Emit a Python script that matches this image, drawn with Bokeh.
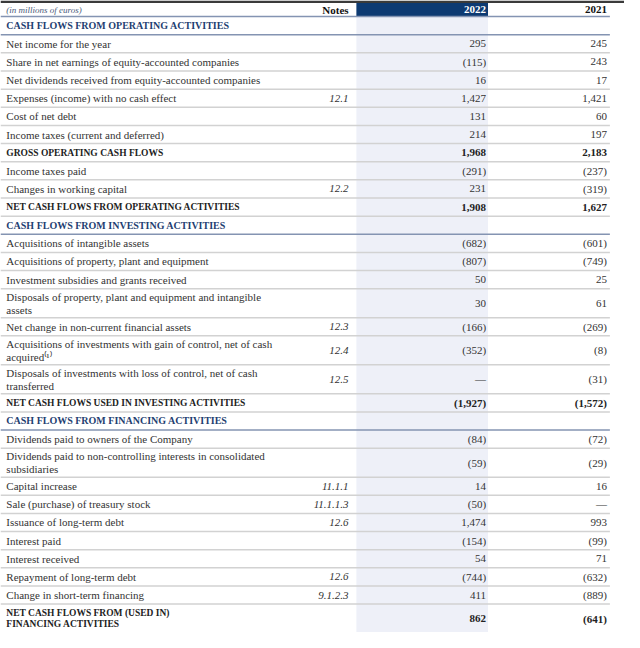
from bokeh.plotting import figure
from bokeh.models import Range1d
from bokeh.embed import file_html
from bokeh.resources import INLINE
from bokeh.core.properties import value

# ---------------- data ----------------
labels = [
    "CASH FLOWS FROM OPERATING ACTIVITIES",
    "Net income for the year",
    "Share in net earnings of equity-accounted companies",
    "Net dividends received from equity-accounted companies",
    "Expenses (income) with no cash effect",
    "Cost of net debt",
    "Income taxes (current and deferred)",
    "GROSS OPERATING CASH FLOWS",
    "Income taxes paid",
    "Changes in working capital",
    "NET CASH FLOWS FROM OPERATING ACTIVITIES",
    "CASH FLOWS FROM INVESTING ACTIVITIES",
    "Acquisitions of intangible assets",
    "Acquisitions of property, plant and equipment",
    "Investment subsidies and grants received",
    "Disposals of property, plant and equipment and intangible\nassets",
    "Net change in non-current financial assets",
    "Acquisitions of investments with gain of control, net of cash\nacquired\u207d\u00b9\u207e",
    "Disposals of investments with loss of control, net of cash\ntransferred",
    "NET CASH FLOWS USED IN INVESTING ACTIVITIES",
    "CASH FLOWS FROM FINANCING ACTIVITIES",
    "Dividends paid to owners of the Company",
    "Dividends paid to non-controlling interests in consolidated\nsubsidiaries",
    "Capital increase",
    "Sale (purchase) of treasury stock",
    "Issuance of long-term debt",
    "Interest paid",
    "Interest received",
    "Repayment of long-term debt",
    "Change in short-term financing",
    "NET CASH FLOWS FROM (USED IN)\nFINANCING ACTIVITIES",
]
notes = ["", "", "", "", "12.1", "", "", "", "", "12.2", "",
         "", "", "", "", "", "12.3", "12.4", "12.5", "",
         "", "", "", "11.1.1", "11.1.1.3", "12.6", "", "", "12.6", "9.1.2.3", ""]
values_2022 = [None, 295, -115, 16, 1427, 131, 214, 1968, -291, 231, 1908,
               None, -682, -807, 50, 30, -166, -352, 0, -1927,
               None, -84, -59, 14, -50, 1474, -154, 54, -744, 411, 862]
values_2021 = [None, 245, 243, 17, 1421, 60, 197, 2183, -237, -319, 1627,
               None, -601, -749, 25, 61, -269, -8, -31, -1572,
               None, -72, -29, 16, 0, 993, -99, 71, -632, -889, -641]
row_kinds = ["section", "item", "item", "item", "item", "item", "item", "total", "item", "item", "total",
             "section", "item", "item", "item", "item", "item", "item", "item", "total",
             "section", "item", "item", "item", "item", "item", "item", "item", "item", "item", "total"]
header_labels = ["(in millions of euros)", "Notes", "2022", "2021"]

# ---------------- style ----------------
FONT = "Liberation Serif"
NAVY = "#0d3a72"
SECTION_COL = "#1f3f72"
TEXT_COL = "#333333"
LAVENDER = "#eef0f8"
LIGHT_LINE = "#d2d2d2"
DARK_LINE = "#8494b2"

W, H = 640, 648
X_LABEL, X_NOTE, X_22, X_21 = 6, 357, 498, 622
C22_L, C22_R, T_R = 365, 500, 625
HEADER_TOP, HEADER_BOT = 2.5, 16.5
SINGLE, DOUBLE = 18.6, 29.7


def fmt(v):
    if v is None:
        return ""
    if v == 0:
        return "\u2014"
    s = f"{abs(v):,}"
    return f"({s})" if v < 0 else s


p = figure(width=624, height=632, x_range=Range1d(0, W), y_range=Range1d(H, 0),
           output_backend="svg", toolbar_location=None, min_border=0)
p.axis.visible = False
p.grid.visible = False
p.outline_line_color = None
p.background_fill_color = "white"
p.border_fill_color = "white"

# row geometry
tops, bots, mids = [], [], []
y = HEADER_BOT
for lab in labels:
    h = DOUBLE if "\n" in lab else SINGLE
    tops.append(y)
    bots.append(y + h)
    mids.append(y + h / 2)
    y += h

# backgrounds
p.quad(left=[0], right=[W], top=[0], bottom=[HEADER_TOP], fill_color="#3a3a3a", line_color=None)
p.quad(left=[C22_L], right=[C22_R], top=[HEADER_BOT], bottom=[H], fill_color=LAVENDER, line_color=None)
p.quad(left=[C22_L], right=[C22_R], top=[HEADER_TOP], bottom=[HEADER_BOT], fill_color=NAVY, line_color=None)

# separators
p.segment(x0=[0], x1=[T_R], y0=[HEADER_BOT], y1=[HEADER_BOT], line_color=DARK_LINE, line_width=1.5)
for i, k in enumerate(row_kinds[:-1]):
    col = DARK_LINE if k == "section" else LIGHT_LINE
    p.segment(x0=[0], x1=[T_R], y0=[bots[i]], y1=[bots[i]], line_color=col, line_width=1.5)

# header texts
p.text(x=[X_LABEL], y=[(HEADER_TOP + HEADER_BOT) / 2], text=[header_labels[0]], text_font=value(FONT),
       text_font_style="italic", text_font_size="9px", text_color="#4a5a7a", text_baseline="middle")
p.text(x=[X_NOTE, X_21], y=[(HEADER_TOP + HEADER_BOT) / 2] * 2, text=[header_labels[1], header_labels[3]],
       text_font=value(FONT), text_font_style="bold", text_font_size="11px", text_color="#111111",
       text_align="right", text_baseline="middle")
p.text(x=[X_22], y=[(HEADER_TOP + HEADER_BOT) / 2], text=[header_labels[2]], text_font=value(FONT),
       text_font_style="bold", text_font_size="11px", text_color="white", text_align="right", text_baseline="middle")

# body texts
for kind, style, color, size in [("section", "bold", SECTION_COL, "10px"),
                                 ("total", "bold", "#222222", "9.5px"),
                                 ("item", "normal", TEXT_COL, "11px")]:
    idx = [i for i, k in enumerate(row_kinds) if k == kind]
    p.text(x=[X_LABEL] * len(idx), y=[mids[i] for i in idx], text=[labels[i] for i in idx],
           text_font=value(FONT), text_font_style=style, text_font_size=size, text_color=color,
           text_baseline="middle", text_line_height=1.1)
    p.text(x=[X_22] * len(idx), y=[mids[i] for i in idx], text=[fmt(values_2022[i]) for i in idx],
           text_font=value(FONT), text_font_style=style, text_font_size="11px",
           text_color="#222222" if kind == "total" else TEXT_COL, text_align="right", text_baseline="middle")
    p.text(x=[X_21] * len(idx), y=[mids[i] for i in idx], text=[fmt(values_2021[i]) for i in idx],
           text_font=value(FONT), text_font_style=style, text_font_size="11px",
           text_color="#222222" if kind == "total" else TEXT_COL, text_align="right", text_baseline="middle")

nidx = [i for i, n in enumerate(notes) if n]
p.text(x=[X_NOTE] * len(nidx), y=[mids[i] for i in nidx], text=[notes[i] for i in nidx],
       text_font=value(FONT), text_font_style="italic", text_font_size="11px", text_color=TEXT_COL,
       text_align="right", text_baseline="middle")

open("out.html", "w").write(file_html(p, INLINE))
